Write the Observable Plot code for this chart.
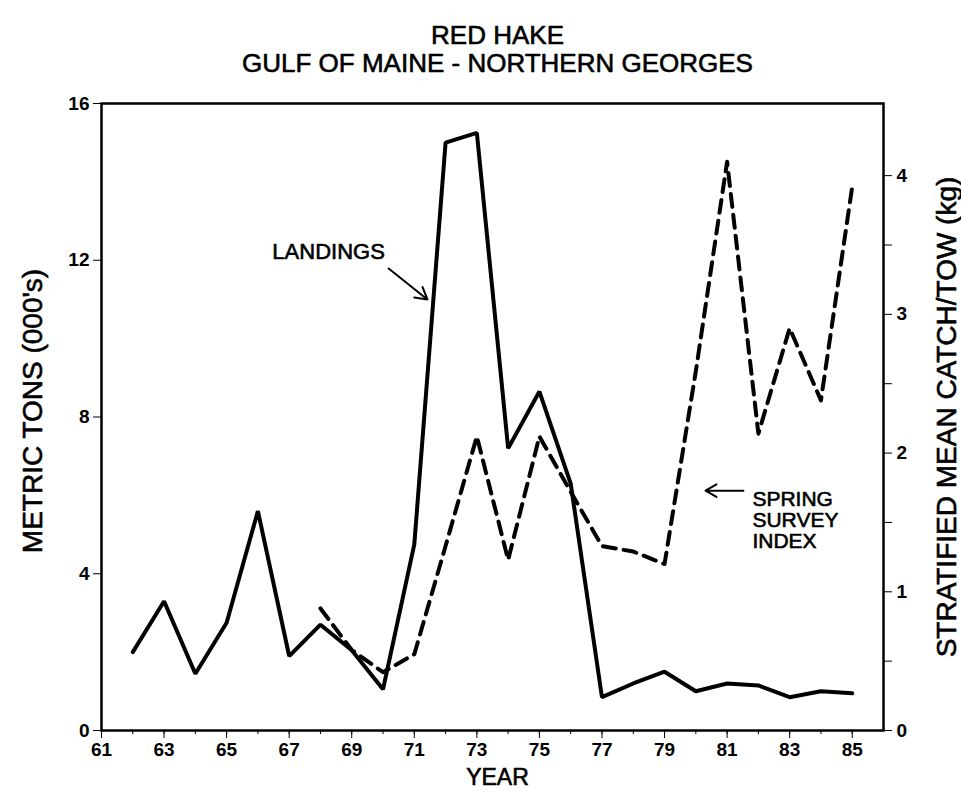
<!DOCTYPE html>
<html><head><meta charset="utf-8">
<script src="https://cdn.jsdelivr.net/npm/d3@7"></script>
<script src="https://cdn.jsdelivr.net/npm/@observablehq/plot@0.6"></script>
<style>body{margin:0;background:#fff;}</style>
</head><body><div id="chart"></div>
<script>
// Landings (metric tons, 000's) — left axis
const landingYears = [62,63,64,65,66,67,68,69,70,71,72,73,74,75,76,77,78,79,80,81,82,83,84,85];
const landings     = [2.0,3.3,1.45,2.75,5.6,1.9,2.7,2.05,1.05,4.75,15.0,15.25,7.2,8.65,6.3,0.85,1.2,1.5,1.0,1.2,1.15,0.85,1.0,0.95];
// Spring survey index (stratified mean catch/tow, kg) — right axis
const surveyYears  = [68,69,70,71,72,73,74,75,76,77,78,79,80,81,82,83,84,85];
const survey       = [0.88,0.58,0.42,0.55,1.33,2.12,1.23,2.12,1.72,1.33,1.29,1.2,2.59,4.1,2.14,2.9,2.38,3.92];
// Axis ticks
const leftTicks  = [0,4,8,12,16];
const rightTicks = [0,0.5,1,1.5,2,2.5,3,3.5,4];
const xTickYears  = d3.range(61,86);
const xLabelYears = [61,63,65,67,69,71,73,75,77,79,81,83,85];
const leftMax = 16, rightMax = 4.52;
const k = leftMax / rightMax;

const landData = landingYears.map((x,i)=>({x, y: landings[i]}));
const survData = surveyYears.map((x,i)=>({x, v: survey[i]}));

const FONT = '"Liberation Sans", Arial, Helvetica, sans-serif';
const heavy = {fontWeight: "normal", stroke: "#000", strokeWidth: 0.6, fill: "#000"};

const chart = Plot.plot({
  width: 961, height: 794,
  marginLeft: 101, marginRight: 78, marginTop: 103, marginBottom: 64,
  style: {fontFamily: FONT, fontSize: "19px", fontWeight: "bold", color: "#000", background: "#fff"},
  x: {domain: [61, 86]},
  y: {domain: [0, leftMax]},
  marks: [
    Plot.frame({stroke: "#000", strokeWidth: 2.5}),
    Plot.axisY({anchor: "left", ticks: leftTicks, tickSize: 8, tickPadding: 4, label: null, fontSize: 19}),
    Plot.axisY({anchor: "right", ticks: rightTicks.map(v => v * k), tickSize: 8, tickPadding: 5, label: null, fontSize: 19,
      tickFormat: d => { const v = Math.round(d / k * 2) / 2; return Number.isInteger(v) ? String(v) : ""; }}),
    Plot.axisX({ticks: xTickYears, tickSize: 4, tickFormat: () => "", label: null}),
    Plot.axisX({ticks: xLabelYears, tickSize: 8, tickPadding: 4, label: null, fontSize: 19, tickFormat: d => String(d)}),
    Plot.line(landData, {x: "x", y: "y", stroke: "#000", strokeWidth: 4, strokeLinejoin: "miter"}),
    Plot.line(survData, {x: "x", y: d => d.v * k, stroke: "#000", strokeWidth: 4, strokeDasharray: "13,8"}),
    // titles and labels
    Plot.text(["RED HAKE"], {frameAnchor: "top", lineAnchor: "middle", dy: -68, dx: 5, fontSize: 26, ...heavy}),
    Plot.text(["GULF OF MAINE - NORTHERN GEORGES"], {frameAnchor: "top", lineAnchor: "middle", dy: -40, dx: 5, fontSize: 26, ...heavy}),
    Plot.text(["YEAR"], {frameAnchor: "bottom", lineAnchor: "middle", dy: 47, dx: 5, fontSize: 23, ...heavy}),
    Plot.text(["METRIC TONS (000's)"], {frameAnchor: "left", textAnchor: "middle", lineAnchor: "middle", rotate: -90, dx: -68, dy: -6, fontSize: 28, ...heavy}),
    Plot.text(["STRATIFIED MEAN CATCH/TOW (kg)"], {frameAnchor: "right", textAnchor: "middle", lineAnchor: "middle", rotate: -90, dx: 64, fontSize: 28, ...heavy}),
    // annotations
    Plot.text([{x: 68.26, y: 12.2, t: "LANDINGS"}], {x: "x", y: "y", text: "t", fontSize: 22, ...heavy}),
    Plot.arrow([{x1: 70.18, y1: 11.79, x2: 71.42, y2: 11.0}], {x1: "x1", y1: "y1", x2: "x2", y2: "y2", stroke: "#000", strokeWidth: 2, headLength: 10}),
    Plot.text([{x: 81.81, y: 5.89, t: "SPRING"}, {x: 81.81, y: 5.36, t: "SURVEY"}, {x: 81.81, y: 4.82, t: "INDEX"}],
      {x: "x", y: "y", text: "t", textAnchor: "start", fontSize: 21, ...heavy}),
    Plot.arrow([{x1: 81.52, y1: 6.12, x2: 80.31, y2: 6.12}], {x1: "x1", y1: "y1", x2: "x2", y2: "y2", stroke: "#000", strokeWidth: 2, headLength: 10})
  ]
});
document.getElementById("chart").appendChild(chart);
</script>
</body></html>
